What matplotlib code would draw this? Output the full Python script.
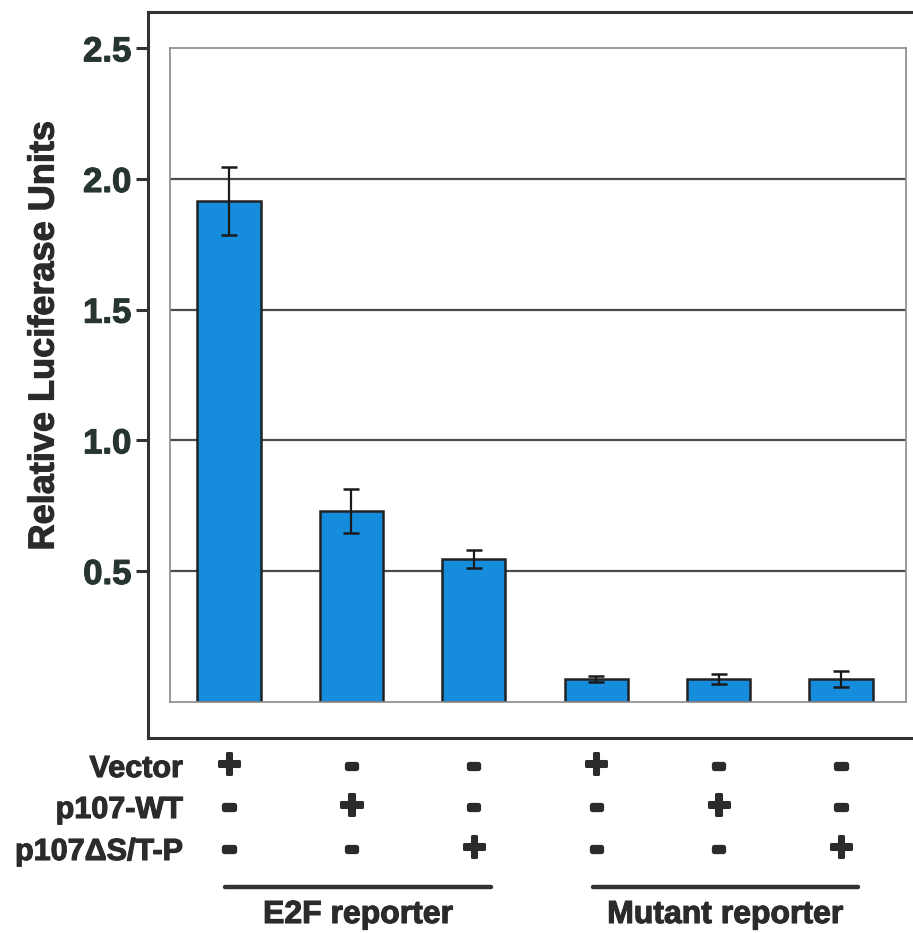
"""
Luciferase reporter assay bar chart (E2F vs mutant reporter).
"""
import matplotlib

matplotlib.use("Agg")
import matplotlib.pyplot as plt
import matplotlib.patheffects as pe
import matplotlib.transforms as mtransforms
from matplotlib.lines import Line2D

plt.rcParams["font.family"] = ["Liberation Sans", "DejaVu Sans"]
plt.rcParams["font.weight"] = "bold"

# bar heights and error bars
values = [1.915, 0.73, 0.546, 0.087, 0.087, 0.087]
errors = [0.13, 0.085, 0.035, 0.013, 0.02, 0.03]

yticks = [0.5, 1.0, 1.5, 2.0, 2.5]
ytick_labels = ["0.5", "1.0", "1.5", "2.0", "2.5"]
grid_levels = [0.5, 1.0, 1.5, 2.0]

row_labels = ["Vector", "p107-WT", "p107\u0394S/T-P"]
vector_signs = ["+", "-", "-", "+", "-", "-"]
wt_signs = ["-", "+", "-", "-", "+", "-"]
mutant_signs = ["-", "-", "+", "-", "-", "+"]

group_names = ["E2F reporter", "Mutant reporter"]
group_members = [[0, 1, 2], [3, 4, 5]]

BAR_COLOR = "#168ddc"
TEXT_COLOR = "#2b2b2b"
W, H = 913, 933


def px_box(left, top, right, bottom):
    return [left / W, 1 - bottom / H, (right - left) / W, (bottom - top) / H]


def heavy(color, lw=0.8):
    # fake a heavier weight than Liberation bold
    return [pe.withStroke(linewidth=lw, foreground=color)]


def main():
    fig = plt.figure(figsize=(W / 100, H / 100), dpi=100)

    # outer frame carrying the y ticks
    ax_out = fig.add_axes(px_box(148, 12, 920, 738))
    ax_out.set_ylim(-0.139, 2.639)
    ax_out.set_xticks([])
    ax_out.set_yticks(yticks)
    ax_out.set_yticklabels(ytick_labels, fontsize=25, fontweight="bold", color="#263531")
    for t in ax_out.get_yticklabels():
        t.set_path_effects(heavy("#263531"))
    ax_out.tick_params(axis="y", length=9, width=2.2, pad=3, color="#333333")
    for s in ax_out.spines.values():
        s.set_linewidth(2.2)
        s.set_color("#333333")
    yl = ax_out.set_ylabel("Relative Luciferase Units", fontsize=26, fontweight="bold",
                           color=TEXT_COLOR)
    yl.set_path_effects(heavy(TEXT_COLOR))
    ax_out.yaxis.set_label_coords(-0.112, 0.554)

    # inner plotting area
    ax = fig.add_axes(px_box(170, 48.3, 906, 701.7))
    ax.set_zorder(ax_out.get_zorder() + 1)
    x = list(range(len(values)))
    ax.set_xlim(-0.482, 5.531)
    ax.set_ylim(0, 2.5)
    for lvl in grid_levels:
        ax.axhline(lvl, color="#4a4a4a", lw=1.6, zorder=1)
    ax.bar(x, values, width=0.515, color=BAR_COLOR, edgecolor="#222222", lw=1.8, zorder=2)
    ax.errorbar(x, values, yerr=errors, fmt="none", ecolor="#1a1a1a", elinewidth=1.6,
                capsize=5.5, capthick=1.8, zorder=3)
    ax.set_xticks([])
    ax.set_yticks([])
    for s in ax.spines.values():
        s.set_linewidth(1.2)
        s.set_color("#8a8a8a")

    # condition table below the plot
    trans = mtransforms.blended_transform_factory(ax.transData, fig.transFigure)
    baselines = [777, 818, 860]
    for label, signs, base in zip(row_labels, [vector_signs, wt_signs, mutant_signs], baselines):
        y = 1 - base / H
        fig.text(183 / W, y, label, ha="right", va="baseline", fontsize=22,
                 fontweight="bold", color=TEXT_COLOR, path_effects=heavy(TEXT_COLOR))
        for xi, sg in zip(x, signs):
            if sg == "+":
                ax.text(xi, y, sg, transform=trans, ha="center", va="baseline",
                        fontsize=29, fontweight="bold", color=TEXT_COLOR,
                        path_effects=heavy(TEXT_COLOR, 2.2))
            else:
                ax.text(xi, y + 0.002, sg, transform=trans, ha="center", va="baseline",
                        fontsize=26, fontweight="bold", color=TEXT_COLOR,
                        path_effects=heavy(TEXT_COLOR, 3.8))

    for name, members in zip(group_names, group_members):
        x0 = min(members) - 0.03
        x1 = max(members) + 0.14
        line = Line2D([x0, x1], [1 - 887 / H] * 2, transform=trans, color="#333333",
                      lw=3.2, solid_capstyle="round")
        fig.add_artist(line)
        ax.text((x0 + x1) / 2, 1 - 923 / H, name, transform=trans, ha="center",
                va="baseline", fontsize=23, fontweight="bold", color=TEXT_COLOR,
                path_effects=heavy(TEXT_COLOR))

    fig.savefig("out.png", dpi=100)
    plt.close(fig)


if __name__ == "__main__":
    main()
